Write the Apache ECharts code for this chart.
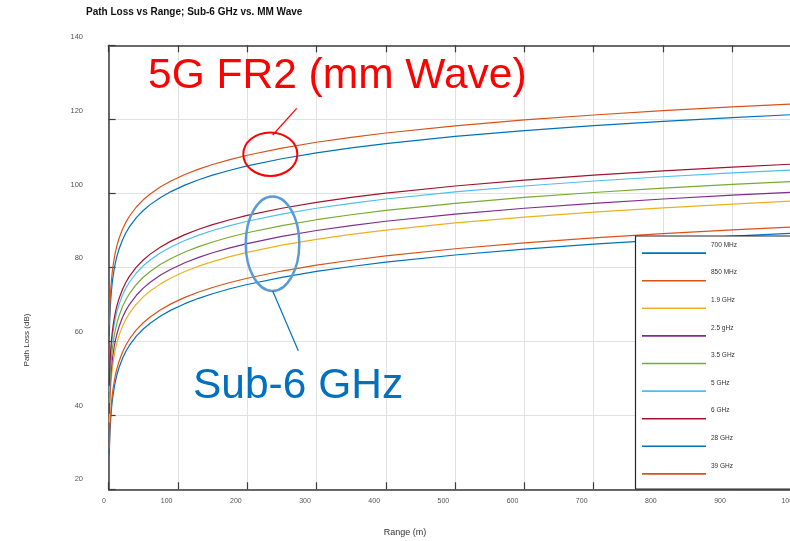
<!DOCTYPE html>
<html>
<head>
<meta charset="utf-8">
<script src="https://cdn.jsdelivr.net/npm/echarts@6/dist/echarts.min.js"></script>
<style>
  html, body { margin: 0; padding: 0; background: #fff; }
  #chart { width: 790px; height: 541px; }
</style>
</head>
<body>
<div id="chart"></div>
<script>
// Range samples in metres
const ranges = [1, 1.5, 2, 3, 4, 5, 6, 8, 10, 12, 15, 20, 25, 30, 40, 50, 60, 75, 90, 110, 130, 150, 175, 200, 250, 300, 350, 400, 500, 600, 700, 800, 900, 1000];

// Path loss (dB) at each range, per carrier frequency
const loss700M = [29.34, 32.86, 35.36, 38.88, 41.38, 43.32, 44.90, 47.40, 49.34, 50.92, 52.86, 55.36, 57.30, 58.88, 61.38, 63.32, 64.90, 66.84, 68.42, 70.17, 71.62, 72.86, 74.20, 75.36, 77.30, 78.88, 80.22, 81.38, 83.32, 84.90, 86.24, 87.40, 88.42, 89.34];
const loss850M = [31.03, 34.55, 37.05, 40.57, 43.07, 45.01, 46.59, 49.09, 51.03, 52.61, 54.55, 57.05, 58.99, 60.57, 63.07, 65.01, 66.59, 68.53, 70.11, 71.86, 73.31, 74.55, 75.89, 77.05, 78.99, 80.57, 81.91, 83.07, 85.01, 86.59, 87.93, 89.09, 90.11, 91.03];
const loss1900M = [38.02, 41.54, 44.04, 47.56, 50.06, 52.00, 53.58, 56.08, 58.02, 59.60, 61.54, 64.04, 65.98, 67.56, 70.06, 72.00, 73.58, 75.52, 77.10, 78.85, 80.30, 81.54, 82.88, 84.04, 85.98, 87.56, 88.90, 90.06, 92.00, 93.58, 94.92, 96.08, 97.10, 98.02];
const loss2500M = [40.40, 43.92, 46.42, 49.94, 52.44, 54.38, 55.96, 58.46, 60.40, 61.98, 63.92, 66.42, 68.36, 69.94, 72.44, 74.38, 75.96, 77.90, 79.48, 81.23, 82.68, 83.92, 85.26, 86.42, 88.36, 89.94, 91.28, 92.44, 94.38, 95.96, 97.30, 98.46, 99.48, 100.40];
const loss3500M = [43.32, 46.84, 49.34, 52.86, 55.36, 57.30, 58.88, 61.38, 63.32, 64.90, 66.84, 69.34, 71.28, 72.86, 75.36, 77.30, 78.88, 80.82, 82.40, 84.15, 85.60, 86.84, 88.18, 89.34, 91.28, 92.86, 94.20, 95.36, 97.30, 98.88, 100.22, 101.38, 102.40, 103.32];
const loss5000M = [46.42, 49.94, 52.44, 55.96, 58.46, 60.40, 61.98, 64.48, 66.42, 68.00, 69.94, 72.44, 74.38, 75.96, 78.46, 80.40, 81.98, 83.92, 85.50, 87.25, 88.70, 89.94, 91.28, 92.44, 94.38, 95.96, 97.30, 98.46, 100.40, 101.98, 103.32, 104.48, 105.50, 106.42];
const loss6000M = [48.00, 51.52, 54.02, 57.54, 60.04, 61.98, 63.56, 66.06, 68.00, 69.58, 71.52, 74.02, 75.96, 77.54, 80.04, 81.98, 83.56, 85.50, 87.08, 88.83, 90.28, 91.52, 92.86, 94.02, 95.96, 97.54, 98.88, 100.04, 101.98, 103.56, 104.90, 106.06, 107.08, 108.00];
const loss28G = [61.38, 64.90, 67.40, 70.92, 73.42, 75.36, 76.94, 79.44, 81.38, 82.96, 84.90, 87.40, 89.34, 90.92, 93.42, 95.36, 96.94, 98.88, 100.46, 102.21, 103.66, 104.90, 106.24, 107.40, 109.34, 110.92, 112.26, 113.42, 115.36, 116.94, 118.28, 119.44, 120.46, 121.38];
const loss39G = [64.26, 67.78, 70.28, 73.80, 76.30, 78.24, 79.82, 82.32, 84.26, 85.84, 87.78, 90.28, 92.22, 93.80, 96.30, 98.24, 99.82, 101.76, 103.34, 105.09, 106.54, 107.78, 109.12, 110.28, 112.22, 113.80, 115.14, 116.30, 118.24, 119.82, 121.16, 122.32, 123.34, 124.26];

const seriesNames = ['700 MHz', '850 MHz', '1.9 GHz', '2.5 gHz', '3.5 GHz', '5 GHz', '6 GHz', '28 GHz', '39 GHz'];
const seriesValues = [loss700M, loss850M, loss1900M, loss2500M, loss3500M, loss5000M, loss6000M, loss28G, loss39G];
const seriesColors = ['#0072BD', '#D95319', '#EDB120', '#7E2F8E', '#77AC30', '#4DBEEE', '#A2142F', '#0072BD', '#D95319'];

const xTicks = { min: 0, max: 1000, interval: 100 };
const yTicks = { min: 20, max: 140, interval: 20 };

const FONT = '"Liberation Sans", Arial, Helvetica, sans-serif';

const chart = echarts.init(document.getElementById('chart'), null, { renderer: 'canvas' });

const series = seriesNames.map((name, i) => ({
  name: name,
  type: 'line',
  xAxisIndex: 0,
  yAxisIndex: 0,
  symbol: 'none',
  showSymbol: false,
  smooth: false,
  clip: true,
  color: seriesColors[i],
  lineStyle: { width: 1.2, color: seriesColors[i], join: 'round' },
  emphasis: { disabled: true },
  data: ranges.map((r, k) => [r, seriesValues[i][k]])
}));

const option = {
  animation: false,
  backgroundColor: '#ffffff',
  textStyle: { fontFamily: FONT },
  title: {
    text: 'Path Loss vs Range; Sub-6 GHz vs. MM Wave',
    left: 86,
    top: 7,
    padding: 0,
    textStyle: { fontSize: 10, fontWeight: 'bold', color: '#111', fontFamily: FONT }
  },
  grid: [
    // plotting frame
    { left: 108.6, top: 45.3, width: 693, height: 444, containLabel: false, outerBoundsMode: 'none' },
    // tick label placement
    { left: 97.5, top: 37.3, width: 691.7, height: 442, containLabel: false, outerBoundsMode: 'none' }
  ],
  xAxis: [
    {
      gridIndex: 0, type: 'value', position: 'bottom',
      min: xTicks.min, max: xTicks.max, interval: xTicks.interval,
      axisLine: { show: true, lineStyle: { color: '#3a3a3a', width: 1.5 } },
      axisTick: { show: true, inside: true, length: 7, lineStyle: { color: '#3a3a3a', width: 1.2 } },
      axisLabel: { show: false },
      splitLine: { show: true, lineStyle: { color: '#e2e2e2', width: 1 } }
    },
    {
      gridIndex: 0, type: 'value', position: 'top',
      min: xTicks.min, max: xTicks.max, interval: xTicks.interval,
      axisLine: { show: true, lineStyle: { color: '#6a6a6a', width: 2 } },
      axisTick: { show: true, inside: true, length: 7, lineStyle: { color: '#3a3a3a', width: 1.2 } },
      axisLabel: { show: false },
      splitLine: { show: false }
    },
    {
      gridIndex: 1, type: 'value', position: 'bottom',
      min: xTicks.min, max: xTicks.max, interval: xTicks.interval,
      axisLine: { show: false }, axisTick: { show: false }, splitLine: { show: false },
      axisLabel: {
        show: true, margin: 18, fontSize: 7, color: '#555', fontFamily: FONT,
        showMinLabel: true, showMaxLabel: true, hideOverlap: false,
        formatter: v => v === 0 ? '{z|0}' : String(v),
        rich: { z: { fontSize: 7, color: '#555', padding: [0, 0, 0, 13] } }
      }
    }
  ],
  yAxis: [
    {
      gridIndex: 0, type: 'value', position: 'left',
      min: yTicks.min, max: yTicks.max, interval: yTicks.interval,
      axisLine: { show: true, lineStyle: { color: '#3a3a3a', width: 1.5 } },
      axisTick: { show: true, inside: true, length: 7, lineStyle: { color: '#3a3a3a', width: 1.2 } },
      axisLabel: { show: false },
      splitLine: { show: true, lineStyle: { color: '#e2e2e2', width: 1 } }
    },
    {
      gridIndex: 1, type: 'value', position: 'left',
      min: yTicks.min, max: yTicks.max, interval: yTicks.interval,
      axisLine: { show: false }, axisTick: { show: false }, splitLine: { show: false },
      axisLabel: {
        show: true, margin: 14.5, fontSize: 7.5, color: '#555', fontFamily: FONT,
        showMinLabel: true, showMaxLabel: true, hideOverlap: false
      }
    }
  ],
  legend: {
    orient: 'vertical',
    left: 642,
    top: 241.6,
    padding: 0,
    itemWidth: 64,
    itemHeight: 1.6,
    itemGap: 6.8,
    icon: 'rect',
    selectedMode: false,
    z: 6,
    data: seriesNames,
    // name sits on the upper line, the empty lower line centres the sample stroke below it
    formatter: name => '{t|' + name + '}\n{s| }',
    textStyle: {
      fontSize: 6.5, color: '#333', fontFamily: FONT,
      rich: {
        t: { fontSize: 6.5, color: '#333', fontFamily: FONT, lineHeight: 11.6 },
        s: { fontSize: 6.5, lineHeight: 16 }
      }
    }
  },
  graphic: {
    elements: [
      // legend frame
      {
        type: 'rect', z: 5, silent: true,
        shape: { x: 635.5, y: 236, width: 200, height: 253 },
        style: { fill: '#ffffff', stroke: '#262626', lineWidth: 1.2 }
      },
      // mm-wave callout
      {
        type: 'text', z: 10, silent: true, x: 148, y: 76,
        style: { text: '5G FR2 (mm Wave)', fill: '#FF0000', fontSize: 42.5, fontFamily: FONT, align: 'left', verticalAlign: 'middle' }
      },
      {
        type: 'line', z: 10, silent: true,
        shape: { x1: 296.7, y1: 108.3, x2: 272.7, y2: 135 },
        style: { stroke: '#FF0000', lineWidth: 1.2 }
      },
      {
        type: 'ellipse', z: 10, silent: true,
        shape: { cx: 270.3, cy: 154.2, rx: 27, ry: 21.8 },
        style: { fill: 'none', stroke: '#FF0000', lineWidth: 2 }
      },
      // sub-6 callout
      {
        type: 'ellipse', z: 10, silent: true,
        shape: { cx: 272.5, cy: 243.8, rx: 26.8, ry: 47.2 },
        style: { fill: 'none', stroke: '#5B9BD5', lineWidth: 2.5 }
      },
      {
        type: 'line', z: 10, silent: true,
        shape: { x1: 272.7, y1: 291, x2: 298.3, y2: 350.7 },
        style: { stroke: '#0070C0', lineWidth: 1.2 }
      },
      {
        type: 'text', z: 10, silent: true, x: 193, y: 386.3,
        style: { text: 'Sub-6 GHz', fill: '#0070C0', fontSize: 42.5, fontFamily: FONT, align: 'left', verticalAlign: 'middle' }
      },
      // axis titles
      {
        type: 'text', z: 10, silent: true, x: 405, y: 533,
        style: { text: 'Range (m)', fill: '#333', fontSize: 9, fontFamily: FONT, align: 'center', verticalAlign: 'middle' }
      },
      {
        type: 'text', z: 10, silent: true, x: 27, y: 340, rotation: Math.PI / 2,
        style: { text: 'Path Loss (dB)', fill: '#333', fontSize: 8, fontFamily: FONT, align: 'center', verticalAlign: 'middle' }
      }
    ]
  },
  series: series
};

chart.setOption(option);
</script>
</body>
</html>
